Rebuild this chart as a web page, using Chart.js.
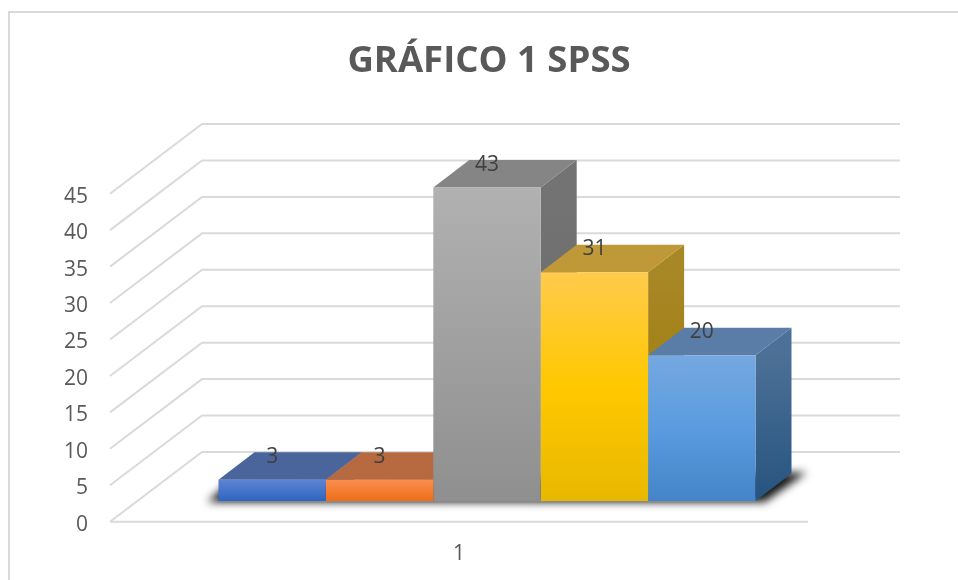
<!DOCTYPE html>
<html>
<head>
<meta charset="utf-8">
<title>GRÁFICO 1 SPSS</title>
<script src="https://cdn.jsdelivr.net/npm/chart.js@4"></script>
<style>
    html, body { margin: 0; padding: 0; background: #fff; }
    #wrap { width: 958px; height: 580px; }
    #chart { filter: blur(0.4px); }
</style>
</head>
<body>
<div id="wrap"><canvas id="chart" width="958" height="580"></canvas></div>
<script>
const chartTitle = 'GRÁFICO 1 SPSS';
const categories = ['1'];
const seriesNames = ['Serie 1', 'Serie 2', 'Serie 3', 'Serie 4', 'Serie 5'];
const seriesValues = [2.9, 2.9, 43, 31.4, 20];
const axisMax = 45;
const axisStep = 5;

// front, top and side colours of each block
const frontColors = [
    ['#5C84D4', '#3064BF'],
    ['#F98F4E', '#EE6D18'],
    ['#B1B1B1', '#8F8F8F'],
    ['#FFCB4C', '#FFC800', '#E8B800'],
    ['#75A8E0', '#5A9CDF', '#4484C8']
];
const topColors = ['#4A659C', '#B76A40', '#858585', '#BF9838', '#5A7DA8'];
const sideColors = [
    ['#3F5A8C', '#2A4A84'],
    ['#A65C30', '#9A5018'],
    ['#737373', '#686868'],
    ['#A88726', '#9C7A00'],
    ['#4C7096', '#26547F']
];

const textColor = '#595959';
const gridColor = '#DADADA';
const fontName = '"Open Sans", sans-serif';

// the blocks stand in front of the floor edge, the walls go further back
const wallDepth = { x: 92, y: -69.7 };
const blockShift = { x: 28, y: -20.7 };
const blockDepth = { x: 36, y: -27.5 };

function polygon(ctx, points, fill) {
    ctx.beginPath();
    points.forEach((p, i) => i ? ctx.lineTo(p[0], p[1]) : ctx.moveTo(p[0], p[1]));
    ctx.closePath();
    ctx.fillStyle = fill;
    ctx.fill();
}

function verticalGradient(ctx, top, bottom, colors) {
    const gradient = ctx.createLinearGradient(0, top, 0, bottom);
    colors.forEach((c, i) => gradient.addColorStop(i / (colors.length - 1), c));
    return gradient;
}

const block3d = {
    id: 'block3d',
    beforeDraw(chart) {
        const ctx = chart.ctx;
        ctx.save();
        ctx.fillStyle = '#fff';
        ctx.fillRect(0, 0, chart.width, chart.height);
        ctx.strokeStyle = gridColor;
        ctx.lineWidth = 2;
        ctx.beginPath();
        ctx.moveTo(9, chart.height);
        ctx.lineTo(9, 12);
        ctx.lineTo(chart.width, 12);
        ctx.stroke();
        ctx.restore();
    },
    afterLayout(chart) {
        // title sits over the whole plot with its walls, not just the front floor
        chart.titleBlock.left = 20;
        chart.titleBlock.right = chart.width;
    },
    beforeDatasetsDraw(chart) {
        const ctx = chart.ctx;
        const area = chart.chartArea;
        const yScale = chart.scales.y;

        ctx.save();
        ctx.strokeStyle = gridColor;
        ctx.lineWidth = 2;
        yScale.ticks.forEach(tick => {
            const y = yScale.getPixelForValue(tick.value);
            ctx.beginPath();
            ctx.moveTo(area.left, y);
            ctx.lineTo(area.left + wallDepth.x, y + wallDepth.y);
            ctx.lineTo(area.right + wallDepth.x, y + wallDepth.y);
            ctx.stroke();
        });
        ctx.beginPath();
        ctx.moveTo(area.left, area.bottom);
        ctx.lineTo(area.right, area.bottom);
        ctx.stroke();

        ctx.translate(blockShift.x, blockShift.y);

        const bars = chart.getSortedVisibleDatasetMetas().map(meta => meta.data[0]);
        const left = bars[0].x - bars[0].width / 2;
        const last = bars[bars.length - 1];
        const right = last.x + last.width / 2;
        const base = yScale.getPixelForValue(0);

        // floor shadow: shape is drawn off canvas so that only its blur lands here
        const away = 3000;
        ctx.save();
        ctx.shadowColor = 'rgba(20,20,20,1)';
        ctx.shadowBlur = 8;
        ctx.shadowOffsetX = away;
        polygon(ctx, [
            [left - 11 - away, base + 1],
            [left + 8 - away, base - 16],
            [right + blockDepth.x + 6 - away, base + blockDepth.y - 1],
            [right + blockDepth.x + 15 - away, base + blockDepth.y - 1],
            [right + 9 - away, base + 1]
        ], '#000');
        ctx.restore();

        bars.forEach((bar, i) => {
            const x0 = bar.x - bar.width / 2;
            const x1 = bar.x + bar.width / 2;
            const dx = blockDepth.x;
            const dy = blockDepth.y;
            polygon(ctx, [[x1, bar.y], [x1 + dx, bar.y + dy], [x1 + dx, base + dy], [x1, base]],
                verticalGradient(ctx, bar.y, base, sideColors[i]));
            polygon(ctx, [[x0, bar.y], [x0 + dx, bar.y + dy], [x1 + dx, bar.y + dy], [x1, bar.y]],
                topColors[i]);
        });

        // thin dark line the blocks stand on
        ctx.fillStyle = '#8a8a8a';
        ctx.fillRect(left, base, right - left, 1.5);
    },
    afterDatasetsDraw(chart) {
        const ctx = chart.ctx;
        ctx.font = '21px ' + fontName;
        ctx.fillStyle = '#404040';
        ctx.textAlign = 'center';
        ctx.textBaseline = 'middle';
        chart.getSortedVisibleDatasetMetas().forEach((meta, i) => {
            const bar = meta.data[0];
            ctx.fillText(String(Math.round(seriesValues[i])), bar.x, bar.y - 23);
        });
        ctx.restore();
    }
};

const datasets = seriesNames.map((name, i) => ({
    label: name,
    data: [seriesValues[i]],
    borderWidth: 0,
    clip: false,
    barPercentage: 1,
    categoryPercentage: 537 / 698,
    backgroundColor(context) {
        const yScale = context.chart.scales.y;
        const top = yScale ? yScale.getPixelForValue(seriesValues[i]) : NaN;
        if (!Number.isFinite(top)) {
            return frontColors[i][0];
        }
        return verticalGradient(context.chart.ctx, top, yScale.getPixelForValue(0), frontColors[i]);
    }
}));

new Chart(document.getElementById('chart'), {
    type: 'bar',
    data: { labels: categories, datasets: datasets },
    plugins: [block3d],
    options: {
        responsive: false,
        animation: false,
        layout: { padding: { left: 20, right: 150, top: 0, bottom: 0 } },
        plugins: {
            legend: { display: false },
            tooltip: { enabled: false },
            title: {
                display: true,
                text: chartTitle,
                color: textColor,
                font: { family: fontName, size: 36.5, weight: 'bold', lineHeight: 1.2 },
                padding: { top: 40, bottom: 109.9 }
            }
        },
        scales: {
            x: {
                grid: { display: false, drawTicks: false },
                border: { display: false },
                ticks: {
                    color: textColor,
                    font: { family: fontName, size: 21 },
                    padding: 20
                },
                afterFit(scale) { scale.height = 58.3; }
            },
            y: {
                min: 0,
                max: axisMax,
                grid: { display: false, drawTicks: false },
                border: { display: false },
                ticks: {
                    stepSize: axisStep,
                    color: textColor,
                    // empty first line pushes the number down half a line (6px line height)
                    callback: value => ['', String(value)],
                    font: { family: fontName, size: 21, lineHeight: 0.286 },
                    padding: 22
                },
                afterFit(scale) { scale.width = 90; }
            }
        }
    }
});
</script>
</body>
</html>
